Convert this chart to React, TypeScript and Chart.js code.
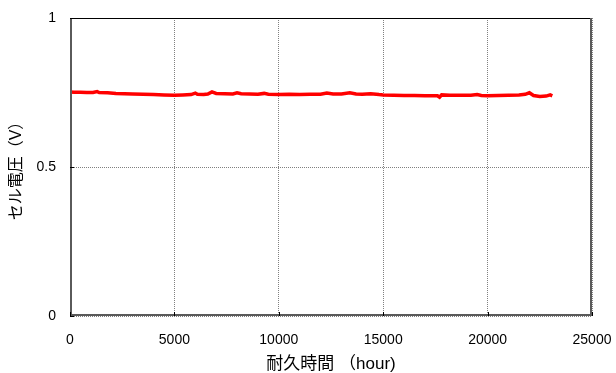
import React, { useEffect, useRef } from "react";
import { Chart, registerables } from "chart.js";

Chart.register(...registerables);

const hours = [
  0, 200, 500, 800, 1100, 1300, 1400, 1800, 2200, 2600, 3000, 3500, 4000, 4500, 5000,
  5400, 5800, 6000, 6100, 6400, 6600, 6800, 7000, 7400, 7800, 8000, 8200, 8600, 9000,
  9300, 9500, 10000, 10500, 11000, 11500, 12000, 12300, 12600, 13000, 13400, 13700,
  14000, 14400, 14800, 15000, 15500, 16000, 16500, 17000, 17600, 17700, 17800, 18200,
  18800, 19200, 19500, 19700, 20000, 20500, 21000, 21500, 21800, 22000, 22200, 22500,
  22800, 23000, 23100,
];
const voltage = [
  0.752, 0.751, 0.751, 0.75, 0.75, 0.753, 0.75, 0.749, 0.747, 0.746, 0.745, 0.744, 0.743,
  0.742, 0.741, 0.742, 0.743, 0.748, 0.744, 0.743, 0.745, 0.752, 0.747, 0.746, 0.745,
  0.749, 0.746, 0.745, 0.744, 0.747, 0.744, 0.743, 0.744, 0.743, 0.744, 0.744, 0.748,
  0.745, 0.745, 0.749, 0.745, 0.744, 0.746, 0.743, 0.742, 0.741, 0.74, 0.74, 0.739,
  0.739, 0.734, 0.742, 0.741, 0.741, 0.741, 0.743, 0.74, 0.739, 0.74, 0.741, 0.742,
  0.744, 0.749, 0.74, 0.737, 0.738, 0.742, 0.739,
];
const xTicks = [0, 5000, 10000, 15000, 20000, 25000];
const yTicks = [0, 0.5, 1];
const xTitle = "耐久時間 （hour)";
const yTitle = "セル電圧（V）";

const FONT = "'Liberation Sans', Arial, 'Noto Sans CJK JP', sans-serif";

export default function App() {
  const ref = useRef<HTMLCanvasElement | null>(null);
  useEffect(() => {
    document.body.style.margin = "0";
    const canvas = ref.current;
    if (!canvas) return;
    const framePlugin = {
      id: "frame",
      afterDatasetsDraw(chart: any) {
        const { ctx, chartArea } = chart;
        const { left, right, top, bottom } = chartArea;
        ctx.save();
        ctx.setLineDash([]);
        ctx.strokeStyle = "#000";
        ctx.lineWidth = 1;
        ctx.beginPath();
        ctx.moveTo(left, top + 0.5);
        ctx.lineTo(right, top + 0.5);
        ctx.stroke();
        ctx.strokeStyle = "#5a5a5a";
        ctx.lineWidth = 2;
        ctx.beginPath();
        ctx.moveTo(left + 1, top);
        ctx.lineTo(left + 1, bottom - 1);
        ctx.lineTo(right - 1, bottom - 1);
        ctx.lineTo(right - 1, top);
        ctx.stroke();
        ctx.lineWidth = 1;
        ctx.strokeStyle = "#000";
        const xs = chart.scales.x;
        const ys = chart.scales.y;
        ctx.beginPath();
        xTicks.forEach((t) => {
          const px = Math.round(xs.getPixelForValue(t)) + 0.5;
          ctx.moveTo(px, bottom);
          ctx.lineTo(px, bottom - 4);
        });
        yTicks.forEach((t) => {
          const py = Math.round(ys.getPixelForValue(t)) + 0.5;
          ctx.moveTo(left, py);
          ctx.lineTo(left + 4, py);
        });
        ctx.stroke();
        ctx.restore();
      },
    };
    const chart = new Chart(canvas, {
      type: "line",
      data: {
        datasets: [
          {
            data: hours.map((h, i) => ({ x: h, y: voltage[i] })),
            borderColor: "#ff0000",
            borderWidth: 3.5,
            pointRadius: 0,
            fill: false,
            tension: 0,
          },
        ],
      },
      options: {
        responsive: false,
        animation: false,
        layout: { padding: { top: 18, right: 24, left: 0, bottom: 0 } },
        plugins: { legend: { display: false }, tooltip: { enabled: false } },
        scales: {
          x: {
            type: "linear",
            min: 0,
            max: 25000,
            afterFit(scale: any) {
              scale.height = 57;
              scale.paddingLeft = 0;
              scale.paddingRight = 0;
            },
            afterBuildTicks(scale: any) {
              scale.ticks = xTicks.map((v) => ({ value: v }));
            },
            ticks: {
              padding: 16,
              color: "#000",
              maxRotation: 0,
              autoSkip: false,
              font: { family: FONT, size: 14 },
              callback: (v: any) => String(v),
            },
            grid: {
              drawTicks: false,
              color: "#808080",
              lineWidth: 1,
            },
            border: { display: false, dash: [1, 1] },
            title: {
              display: true,
              text: xTitle,
              color: "#000",
              font: { family: FONT, size: 17, lineHeight: 1 },
              padding: { top: 0, bottom: 0 },
            },
          },
          y: {
            min: 0,
            max: 1,
            afterFit(scale: any) {
              scale.width = 70;
              scale.paddingTop = 0;
              scale.paddingBottom = 0;
            },
            afterBuildTicks(scale: any) {
              scale.ticks = yTicks.map((v) => ({ value: v }));
            },
            ticks: {
              padding: 14,
              color: "#000",
              font: { family: FONT, size: 14 },
              callback: (v: any) => String(v),
            },
            grid: {
              drawTicks: false,
              color: "#808080",
              lineWidth: 1,
            },
            border: { display: false, dash: [1, 1] },
            title: {
              display: true,
              text: yTitle,
              color: "#000",
              font: { family: FONT, size: 16, lineHeight: 1 },
              padding: { top: 9, bottom: 0 },
            },
          },
        },
      },
      plugins: [framePlugin],
    });
    return () => chart.destroy();
  }, []);
  return (
    <div style={{ width: 616, height: 373, background: "#fff" }}>
      <canvas ref={ref} width={616} height={373} style={{ display: "block", width: 616, height: 373 }} />
    </div>
  );
}
